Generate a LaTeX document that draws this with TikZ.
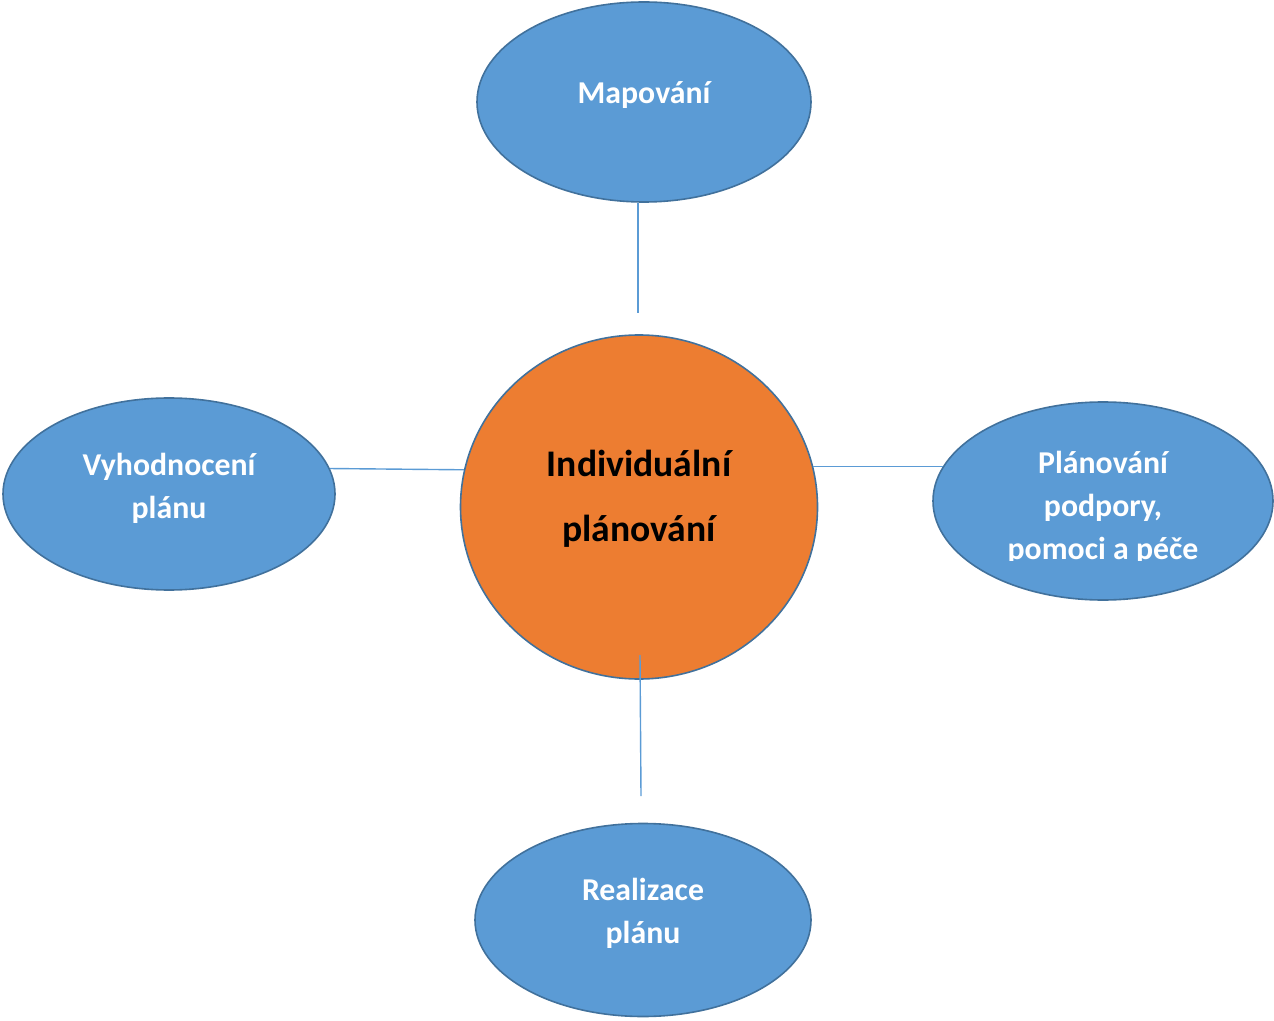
\documentclass[tikz,border=0pt]{standalone}
\usepackage{fontspec}
\setmainfont{Carlito}
\usetikzlibrary{shapes.geometric}
\usetikzlibrary{positioning}
\definecolor{bubble}{RGB}{91, 155, 213}
\definecolor{rim}{RGB}{65, 113, 156}
\definecolor{tangerine}{RGB}{237, 125, 49}

\begin{document}
\begin{tikzpicture}[x=0.5pt, y=-0.5pt,
        stage/.style    ={ellipse, draw=rim, fill=bubble, line width=0.8pt, inner sep=0pt},
        hub/.style      ={ellipse, draw=rim, fill=tangerine, line width=0.8pt, inner sep=0pt,
                          minimum width=178.5pt, minimum height=172pt},
        stagetext/.style={text=white, align=center, inner sep=0pt,
                          font=\fontsize{15.9pt}{21.5pt}\selectfont\bfseries},
        hubtext/.style  ={text=black, align=center, inner sep=0pt,
                          font=\fontsize{18.8pt}{32.5pt}\selectfont\bfseries},
        link/.style     ={draw=bubble, line width=0.7pt}]
            % Frame to fix the page
            \useasboundingbox                                          (0, 0) rectangle (1274, 1021);
            % Outer stages
            \node[stage, minimum width=167pt, minimum height=100pt]    (map)  at ( 644,  102) {};
            \node[stage, minimum width=166pt, minimum height=96pt]     (vyh)  at ( 169,  494) {};
            \node[stage, minimum width=170pt, minimum height=99pt]     (plan) at (1103,  501) {};
            \node[stage, minimum width=168pt, minimum height=96.5pt]   (real) at ( 643,  920) {};
            % Center
            \node[hub]                                                 (ind)  at ( 639,  507) {};
            % Texts
            \node[stagetext]                                           (mapT)  at ( 644,   95) {Mapování};
            \node[stagetext]                                           (vyhT)  at ( 169,  488) {Vyhodnocení\\plánu};
            \node[stagetext]                                           (realT) at ( 643,  913) {Realizace\\plánu};
            \node[hubtext]                                             (indT)  at ( 639,  499) {Individuální\\plánování};
            \begin{scope}
                \clip                                                  ( 933,  400) rectangle (1274, 560);
                \node[stagetext]                                       (planT) at (1103,  508) {Plánování\\podpory,\\pomoci a péče};
            \end{scope}
            % Links
            \coordinate (mapEnd)  at ( 638,  313);
            \coordinate (realTop) at ( 641,  796);
            \coordinate (indLow)  at ( 640,  655);
            \draw[link] (map.south -| mapEnd) -- (mapEnd);
            \draw[link] (vyh.9)               -- (ind.168);
            \draw[link] (ind.13)              -- (plan.168 |- ind.13);
            \draw[link] (indLow)              -- (realTop);
        \end{tikzpicture}
\end{document}
